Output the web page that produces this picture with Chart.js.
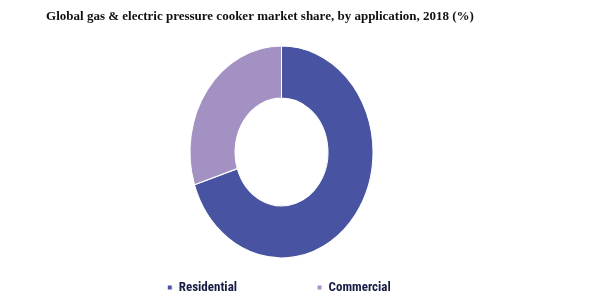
<!DOCTYPE html>
<html>
<head>
<meta charset="utf-8">
<script src="https://cdn.jsdelivr.net/npm/chart.js@4/dist/chart.umd.min.js"></script>
<style>
  html, body { margin: 0; padding: 0; background: #fff; }
  #wrap { width: 600px; height: 300px; position: relative; }
</style>
</head>
<body>
<div id="wrap"><canvas id="c" width="600" height="300"></canvas></div>
<script>
const titleText = "Global gas & electric pressure cooker market share, by application, 2018 (%)";
const categories = ["Residential", "Commercial"];
const shares = [70, 30];
const colors = ["#4853A1", "#A391C4"];

// Stretch/position the ring the way the reference image is drawn (slightly taller than wide)
const ringShape = {
  id: 'ringShape',
  beforeDatasetsDraw(chart) {
    const arc = chart.getDatasetMeta(0).data[0];
    if (!arc) return;
    const ctx = chart.ctx;
    const tx = 281.5, ty = 152, sy = 1.158;
    ctx.save();
    ctx.translate(tx, ty);
    ctx.scale(1, sy);
    ctx.translate(-arc.x, -arc.y);
  },
  afterDatasetsDraw(chart) {
    chart.ctx.restore();
  }
};

// Title placed where the reference has it (off-centre to the left)
const offsetTitle = {
  id: 'offsetTitle',
  afterDraw(chart) {
    const ctx = chart.ctx;
    ctx.save();
    ctx.font = "bold 13px 'Liberation Serif', 'DejaVu Serif', serif";
    ctx.fillStyle = '#111111';
    ctx.textAlign = 'center';
    ctx.textBaseline = 'alphabetic';
    ctx.fillText(titleText, 260, 19.5);
    ctx.restore();
  }
};

new Chart(document.getElementById('c'), {
  type: 'doughnut',
  data: {
    labels: categories,
    datasets: [{
      data: shares,
      backgroundColor: colors,
      borderColor: '#ffffff',
      borderWidth: 1,
      radius: 91.5,
      cutout: '50.8%'
    }]
  },
  options: {
    responsive: false,
    animation: false,
    events: [],
    layout: { padding: { left: 0, right: 42, top: 30, bottom: -4 } },
    plugins: {
      tooltip: { enabled: false },
      title: { display: false },
      legend: {
        position: 'bottom',
        labels: {
          boxWidth: 5,
          boxHeight: 5,
          padding: 80,
          color: '#181c44',
          font: { family: "'Liberation Sans Narrow', 'Roboto Condensed', Roboto, sans-serif", size: 13, weight: 'bold' }
        }
      }
    }
  },
  plugins: [ringShape, offsetTitle]
});
</script>
</body>
</html>
